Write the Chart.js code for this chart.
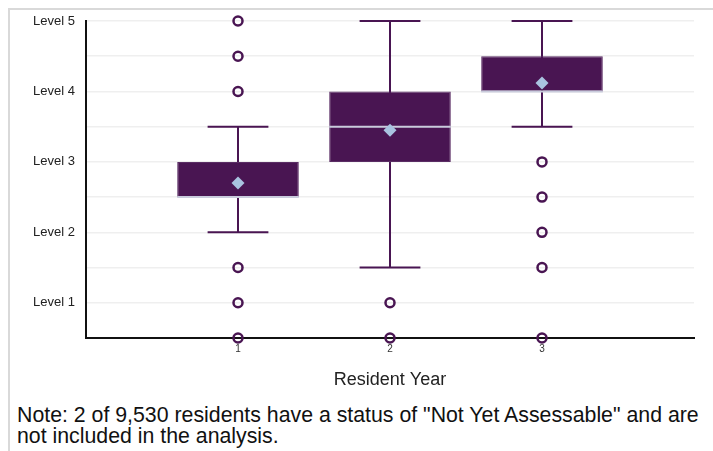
<!DOCTYPE html>
<html>
<head>
<meta charset="utf-8">
<script src="https://cdn.jsdelivr.net/npm/chart.js@4.4.1/dist/chart.umd.min.js"></script>
<style>
  body { margin: 0; background: #fff; }
  #frame {
    position: absolute; left: 8px; top: 8px; width: 705px; height: 443px;
    border-top: 2px solid #d9d9d9; border-left: 2px solid #d9d9d9;
  }
  #chart { position: absolute; left: 0; top: 0; }
  #note {
    position: absolute; left: 17px; top: 405px;
    font-family: "Liberation Sans", Arial, sans-serif; font-size: 21.3px; line-height: 21px;
    color: #111; white-space: nowrap;
  }
</style>
</head>
<body>
<div id="frame"></div>
<canvas id="chart" width="713" height="400"></canvas>
<div id="note">Note: 2 of 9,530 residents have a status of "Not Yet Assessable" and are<br>not included in the analysis.</div>
<script>
const years = [1, 2, 3];
const q1 = [2.5, 3, 4];
const q3 = [3, 4, 4.5];
const medians = [2.5, 3.5, 4];
const means = [2.7, 3.45, 4.12];
const whiskerLow = [2, 1.5, 3.5];
const whiskerHigh = [3.5, 5, 5];
const outliers = [
  [0.5, 1, 1.5, 4, 4.5, 5],
  [0.5, 1],
  [0.5, 1.5, 2, 2.5, 3],
];
const levelLabels = ["Level 1", "Level 2", "Level 3", "Level 4", "Level 5"];

const PURPLE = "#491552";
const CAP_HALF = 0.2;

const boxPlot = {
  id: "boxPlot",
  beforeDatasetsDraw(chart) {
    const { ctx, scales: { x, y } } = chart;
    ctx.save();
    ctx.strokeStyle = PURPLE;
    ctx.lineWidth = 2;
    years.forEach((yr, i) => {
      const px = x.getPixelForValue(yr);
      ctx.beginPath();
      ctx.moveTo(px, y.getPixelForValue(whiskerLow[i]));
      ctx.lineTo(px, y.getPixelForValue(whiskerHigh[i]));
      [whiskerLow[i], whiskerHigh[i]].forEach((v) => {
        const py = y.getPixelForValue(v);
        ctx.moveTo(x.getPixelForValue(yr - CAP_HALF), py);
        ctx.lineTo(x.getPixelForValue(yr + CAP_HALF), py);
      });
      ctx.stroke();
    });
    ctx.restore();
  },
  afterDatasetDraw(chart, args) {
    if (args.meta.type !== "bar") return;
    const { ctx, scales: { y } } = chart;
    ctx.save();
    ctx.strokeStyle = "#c9cbdc";
    ctx.lineWidth = 2;
    args.meta.data.forEach((bar, i) => {
      const py = y.getPixelForValue(medians[i]);
      ctx.beginPath();
      ctx.moveTo(bar.x - bar.width / 2, py);
      ctx.lineTo(bar.x + bar.width / 2, py);
      ctx.stroke();
    });
    ctx.restore();
  },
};

const font = { family: "'Liberation Sans', Arial, sans-serif" };

new Chart(document.getElementById("chart"), {
  data: {
    datasets: [
      {
        type: "scatter",
        label: "Mean",
        data: years.map((x, i) => ({ x, y: means[i] })),
        pointStyle: "rectRot",
        pointRadius: 6.5,
        backgroundColor: "#a9c3e0",
        borderWidth: 0,
        order: 1,
      },
      {
        type: "scatter",
        label: "Outliers",
        data: years.flatMap((x, i) => outliers[i].map((y) => ({ x, y }))),
        pointRadius: 4.5,
        borderWidth: 2.5,
        borderColor: PURPLE,
        backgroundColor: "rgba(255,255,255,0)",
        clip: false,
        order: 2,
      },
      {
        type: "bar",
        label: "IQR",
        data: years.map((x, i) => ({ x, y: [q1[i], q3[i]] })),
        backgroundColor: PURPLE,
        borderColor: "#5a2d64",
        borderWidth: 1,
        borderSkipped: false,
        categoryPercentage: 1,
        barPercentage: 0.8,
        order: 3,
      },
    ],
  },
  options: {
    responsive: false,
    animation: false,
    layout: { padding: { left: 0, right: 19, top: 21, bottom: 9 } },
    plugins: { legend: { display: false }, tooltip: { enabled: false } },
    scales: {
      x: {
        type: "linear",
        min: 0,
        max: 4,
        offset: false,
        afterBuildTicks: (s) => { s.ticks = years.map((v) => ({ value: v })); },
        afterFit: (s) => { s.height = 53; },
        ticks: { padding: 5, color: "#333", font: { ...font, size: 10 }, callback: (v) => String(v) },
        grid: { display: false, drawTicks: false },
        border: { display: true, color: "#111", width: 2 },
        title: {
          display: true,
          text: "Resident Year",
          color: "#222",
          font: { ...font, size: 18 },
          padding: { top: 0, bottom: 0 },
        },
      },
      y: {
        min: 0.5,
        max: 5,
        afterFit: (s) => { s.width = 86; },
        ticks: {
          stepSize: 0.5,
          padding: 11,
          color: "#222",
          font: { ...font, size: 13 },
          callback: (v) => (Number.isInteger(v) ? levelLabels[v - 1] : ""),
        },
        grid: {
          color: (c) => (c.tick && c.tick.value > 0.5 ? "#efefef" : "rgba(0,0,0,0)"),
          lineWidth: 1.5,
          drawTicks: false,
        },
        border: { display: true, color: "#111", width: 2 },
      },
    },
  },
  plugins: [boxPlot],
});
</script>
</body>
</html>
